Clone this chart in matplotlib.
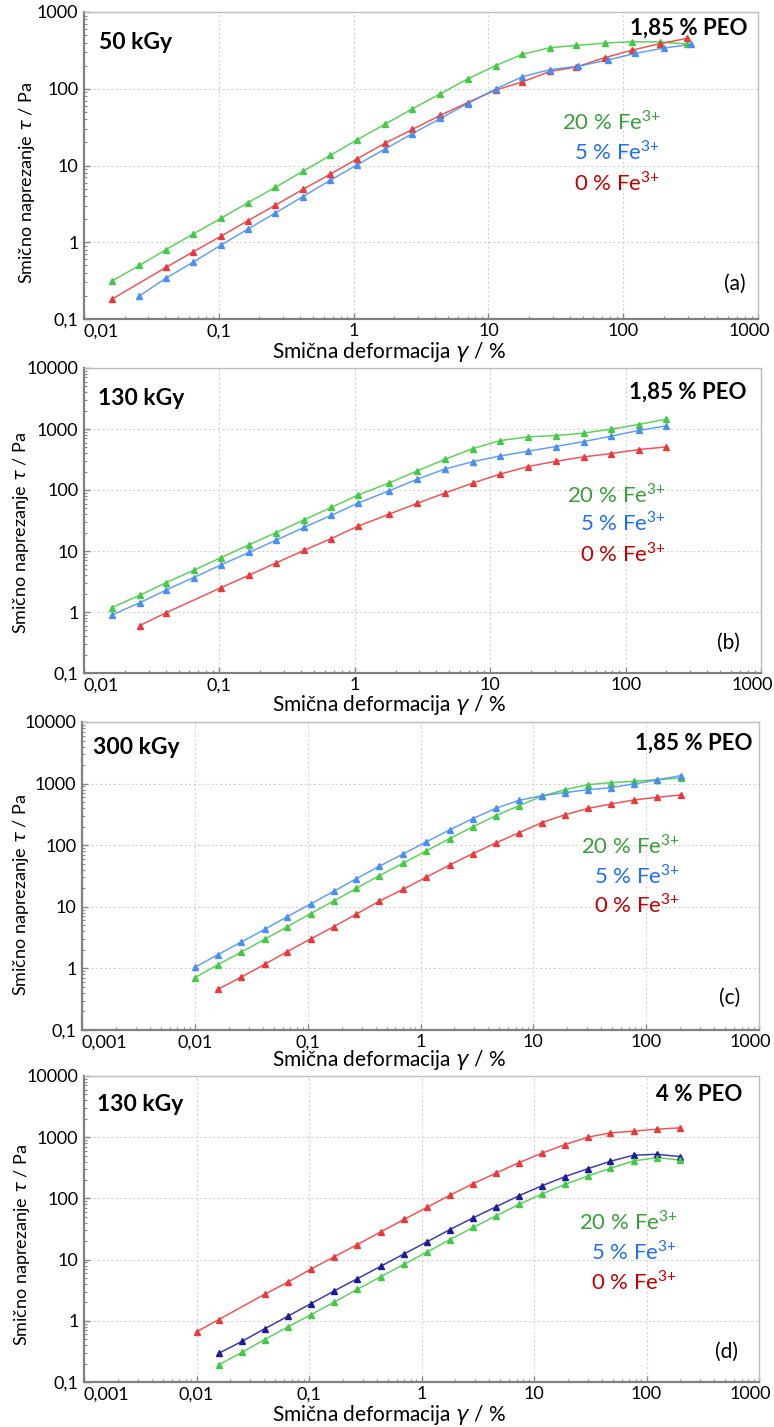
import matplotlib
matplotlib.use("Agg")
import matplotlib.pyplot as plt
from matplotlib.ticker import FixedLocator, LogLocator, NullFormatter, FuncFormatter
from matplotlib.transforms import ScaledTranslation

plt.rcParams["font.family"] = ["Lato", "DejaVu Sans"]
plt.rcParams["mathtext.fontset"] = "custom"
plt.rcParams["mathtext.rm"] = "Lato"
plt.rcParams["mathtext.it"] = "DejaVu Sans:italic"

# ── data ──────────────────────────────────────────────────────
# (a) 50 kGy, 1,85 % PEO
A_X_GREEN = [0.016, 0.0258, 0.0405, 0.0645, 0.103, 0.165, 0.263, 0.42, 0.67, 1.06, 1.7,
             2.73, 4.4, 7.0, 11.3, 17.9, 28.6, 45, 73, 117, 187, 298]
A_Y_GREEN = [0.31, 0.50, 0.80, 1.28, 2.04, 3.29, 5.2, 8.4, 13.5, 21.6, 34.3,
             54.8, 86, 134, 200, 281, 343, 367, 394, 410, 406, 383]
A_X_BLUE = [0.0258, 0.0405, 0.0645, 0.103, 0.165, 0.263, 0.42, 0.67, 1.06, 1.7,
            2.73, 4.4, 7.0, 11.3, 17.9, 28.6, 46, 77, 123, 200, 321]
A_Y_BLUE = [0.20, 0.34, 0.55, 0.91, 1.49, 2.41, 3.94, 6.4, 10.2, 16.3,
            26, 41, 64, 99, 144, 177, 196, 237, 289, 339, 379]
A_X_RED = [0.016, 0.0405, 0.0645, 0.103, 0.165, 0.263, 0.42, 0.67, 1.06, 1.7,
           2.73, 4.4, 7.0, 11.3, 17.9, 28.6, 45, 73, 117, 187, 298]
A_Y_RED = [0.18, 0.47, 0.75, 1.19, 1.92, 3.04, 4.87, 7.7, 12.2, 19.4,
           29.5, 45, 66, 96, 123, 168, 192, 254, 319, 386, 454]

# (b) 130 kGy, 1,85 % PEO
B_X = [0.016, 0.0258, 0.0405, 0.0645, 0.103, 0.165, 0.263, 0.42, 0.67, 1.06, 1.8,
       2.89, 4.63, 7.45, 11.9, 19, 30.5, 49, 78, 125, 200]
B_Y_GREEN = [1.18, 1.88, 3.04, 4.84, 7.8, 12.6, 20.1, 32.1, 51.9, 82.7, 131,
             205, 319, 478, 647, 743, 782, 854, 994, 1185, 1452]
B_Y_BLUE = [0.89, 1.42, 2.3, 3.67, 5.93, 9.45, 15.1, 24.3, 38.4, 61.1, 97.5,
            150, 221, 292, 362, 432, 516, 623, 763, 945, 1127]
B_X_RED = [0.0258, 0.0405, 0.103, 0.165, 0.263, 0.42, 0.67, 1.06, 1.8,
           2.89, 4.63, 7.45, 11.9, 19, 30.5, 49, 78, 125, 200]
B_Y_RED = [0.60, 0.975, 2.51, 4.0, 6.4, 10.2, 16.0, 25.6, 40.3,
           60.4, 89.3, 130, 183, 242, 296, 349, 396, 460, 509]

# (c) 300 kGy, 1,85 % PEO
C_X = [0.01, 0.016, 0.0258, 0.0415, 0.0658, 0.106, 0.17, 0.27, 0.43,
       0.70, 1.12, 1.81, 2.9, 4.66, 7.5, 11.9, 19.1, 30.8, 48.9, 78.2, 125, 202]
C_Y_BLUE = [1.04, 1.67, 2.68, 4.3, 6.9, 11.1, 17.8, 28.6, 45.4,
            72, 113, 177, 270, 397, 536, 638, 714, 798, 860, 987, 1146, 1348]
C_Y_GREEN = [0.705, 1.15, 1.84, 2.96, 4.75, 7.73, 12.4, 19.9, 32,
             50.8, 80.5, 128, 198, 302, 439, 622, 798, 962, 1037, 1090, 1159, 1234]
C_X_RED = [0.016, 0.0258, 0.0415, 0.0658, 0.106, 0.17, 0.27, 0.43,
           0.70, 1.12, 1.81, 2.9, 4.66, 7.5, 11.9, 19.1, 30.8, 48.9, 78.2, 125, 202]
C_Y_RED = [0.456, 0.723, 1.16, 1.87, 3.0, 4.75, 7.6, 12.3,
           19.2, 30.1, 47.7, 72.8, 109, 160, 232, 313, 397, 467, 542, 599, 654]

# (d) 130 kGy, 4 % PEO
D_X_RED = [0.01, 0.0158, 0.0403, 0.065, 0.1035, 0.167, 0.269, 0.435,
           0.70, 1.13, 1.79, 2.88, 4.61, 7.37, 11.9, 18.9, 30.1, 47.7, 76.7, 123, 199]
D_Y_RED = [0.66, 1.05, 2.71, 4.3, 6.95, 11.1, 17.6, 28.4,
           45.3, 72.1, 113, 174, 260, 384, 554, 758, 1000, 1178, 1254, 1352, 1422]
D_X = [0.0158, 0.0255, 0.0403, 0.065, 0.1035, 0.167, 0.269, 0.435,
       0.70, 1.13, 1.79, 2.88, 4.61, 7.37, 11.9, 18.9, 30.1, 47.7, 76.7, 123, 199]
D_Y_BLUE = [0.295, 0.464, 0.74, 1.19, 1.9, 3.07, 4.88, 7.78,
            12.4, 19.7, 31, 48.2, 73, 111, 162, 227, 306, 404, 507, 526, 482]
D_Y_GREEN = [0.192, 0.306, 0.494, 0.797, 1.25, 2.02, 3.26, 5.27,
             8.38, 13.4, 21.3, 33.5, 52, 79.8, 119, 170, 232, 310, 409, 464, 425]

DOSES = ["50 kGy", "130 kGy", "300 kGy", "130 kGy"]
PEO = ["1,85 % PEO", "1,85 % PEO", "1,85 % PEO", "4 % PEO"]
TAGS = ["(a)", "(b)", "(c)", "(d)"]
FE_LABELS = ["20 % Fe$^{3{+}}$", "5 % Fe$^{3{+}}$", "0 % Fe$^{3{+}}$"]

GREEN, BLUE, RED, NAVY = "#45c845", "#4a8ff0", "#e83a3a", "#1c1c9a"
TXT_COLORS = ["#3a9e3a", "#1f6ff2", "#c00000"]

W, H = 774, 1427
# axes boxes in pixels: left, top, right, bottom
BOXES = [(84, 12, 758, 319), (84, 368, 761, 673), (82, 722, 759, 1030), (84, 1076, 759, 1382)]
XLIMS = [(0.01, 1000), (0.01, 1000), (0.001, 1000), (0.001, 1000)]
YLIMS = [(0.1, 1000), (0.1, 10000), (0.1, 10000), (0.1, 10000)]
# text anchors in axes fractions
DOSE_POS = [(0.022, 0.902), (0.021, 0.90), (0.016, 0.916), (0.019, 0.908)]
PEO_POS = [(0.984, 0.948), (0.979, 0.921), (0.991, 0.932), (0.975, 0.938)]
TAG_POS = [(0.981, 0.114), (0.969, 0.098), (0.973, 0.104), (0.969, 0.098)]
FE_X = [0.855, 0.86, 0.883, 0.879]
FE_Y = [(0.642, 0.544, 0.446), (0.584, 0.492, 0.393), (0.60, 0.503, 0.406), (0.523, 0.425, 0.327)]
XLAB_Y = [-0.1075, -0.105, -0.097, -0.108]
YLAB_POS = [(-0.085, 0.443), (-0.093, 0.46), (-0.09, 0.438), (-0.092, 0.448)]

SERIES = [
    [(A_X_GREEN, A_Y_GREEN, GREEN), (A_X_RED, A_Y_RED, RED), (A_X_BLUE, A_Y_BLUE, BLUE)],
    [(B_X, B_Y_GREEN, GREEN), (B_X, B_Y_BLUE, BLUE), (B_X_RED, B_Y_RED, RED)],
    [(C_X, C_Y_GREEN, GREEN), (C_X, C_Y_BLUE, BLUE), (C_X_RED, C_Y_RED, RED)],
    [(D_X_RED, D_Y_RED, RED), (D_X, D_Y_BLUE, NAVY), (D_X, D_Y_GREEN, GREEN)],
]


def comma_fmt(v, pos):
    return f"{v:g}".replace(".", ",")


def decades(lo, hi):
    out, v = [], lo
    while v <= hi * 1.0001:
        out.append(v)
        v *= 10
    return out


fig = plt.figure(figsize=(W / 100, H / 100), dpi=100)

for i in range(4):
    l, t, r, b = BOXES[i]
    ax = fig.add_axes([l / W, 1 - b / H, (r - l) / W, (b - t) / H])
    ax.set_xscale("log")
    ax.set_yscale("log")

    for xs, ys, col in SERIES[i]:
        ax.plot(xs, ys, color=col, lw=1.1, alpha=0.85, zorder=3)
        ax.plot(xs, ys, ls="none", marker="^", ms=4, color=col, zorder=4)

    ax.set_xlim(*XLIMS[i])
    ax.set_ylim(*YLIMS[i])
    xt, yt = decades(*XLIMS[i]), decades(*YLIMS[i])
    ax.xaxis.set_major_locator(FixedLocator(xt))
    ax.yaxis.set_major_locator(FixedLocator(yt))
    ax.xaxis.set_major_formatter(FuncFormatter(comma_fmt))
    ax.yaxis.set_major_formatter(FuncFormatter(comma_fmt))
    ax.xaxis.set_minor_locator(LogLocator(base=10, subs=range(2, 10), numticks=20))
    ax.yaxis.set_minor_locator(LogLocator(base=10, subs=range(2, 10), numticks=20))
    ax.xaxis.set_minor_formatter(NullFormatter())
    ax.yaxis.set_minor_formatter(NullFormatter())
    ax.tick_params(which="both", direction="in", colors="#888888", labelcolor="black",
                   labelsize=13, top=False, right=False)
    ax.tick_params(which="major", length=4, width=1)
    ax.tick_params(which="minor", length=2.5, width=0.8)
    ax.tick_params(axis="x", pad=3)
    ax.tick_params(axis="y", pad=4)
    labs = ax.get_xticklabels()
    labs[0].set_horizontalalignment("left")
    labs[-1].set_transform(labs[-1].get_transform()
                           + ScaledTranslation(-0.09, 0, fig.dpi_scale_trans))

    ax.grid(True, which="major", color="#d4d4d4", ls=(0, (2, 2)), lw=0.8)
    for side in ("bottom", "left"):
        ax.spines[side].set_color("#808080")
        ax.spines[side].set_linewidth(1.6)
    for side in ("top", "right"):
        ax.spines[side].set_color("#bdbdbd")
        ax.spines[side].set_linewidth(1.0)

    ax.text(*DOSE_POS[i], DOSES[i], transform=ax.transAxes, ha="left", va="center",
            fontsize=16.5, fontweight="bold")
    ax.text(*PEO_POS[i], PEO[i], transform=ax.transAxes, ha="right", va="center",
            fontsize=16, fontweight="bold")
    ax.text(*TAG_POS[i], TAGS[i], transform=ax.transAxes, ha="right", va="center", fontsize=15)
    for lab, yy, col in zip(FE_LABELS, FE_Y[i], TXT_COLORS):
        ax.text(FE_X[i], yy, lab, transform=ax.transAxes, ha="right", va="center",
                fontsize=16, color=col)

    xc = (389 - l) / (r - l)
    ax.text(xc, XLAB_Y[i], "Smična deformacija $\\it{\\gamma}$ / %", transform=ax.transAxes,
            ha="center", va="center", fontsize=15)
    ax.text(*YLAB_POS[i], "Smično naprezanje $\\it{\\tau}$ / Pa", transform=ax.transAxes,
            ha="center", va="center", rotation=90, fontsize=13)

fig.savefig("out.png", dpi=100)
